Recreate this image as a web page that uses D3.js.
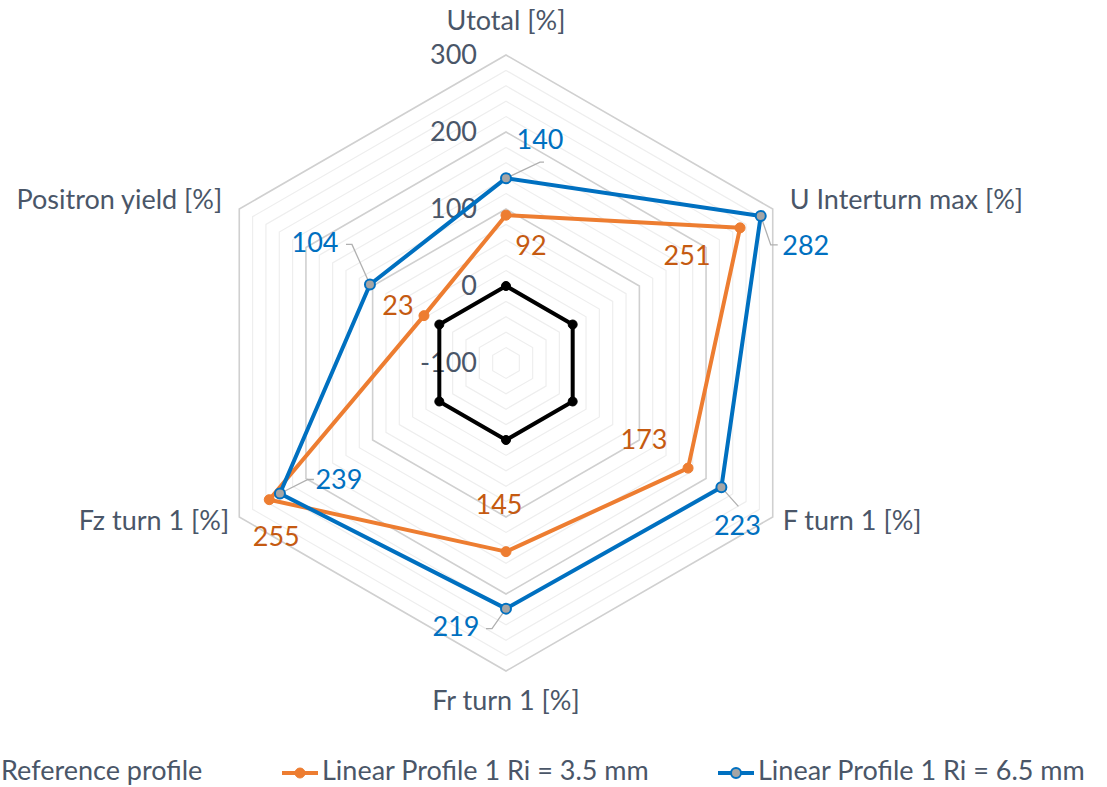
<!DOCTYPE html>
<html>
<head>
<meta charset="utf-8">
<script src="https://cdn.jsdelivr.net/npm/d3@7"></script>
<style>
  body { margin: 0; background: #fff; overflow: hidden; }
  text { font-family: Lato, "Noto Sans", sans-serif; }
</style>
</head>
<body>
<div id="chart"></div>
<script>
// axes of the radar, clockwise from top
var axes = ["Utotal [%]", "U Interturn max [%]", "F turn 1 [%]", "Fr turn 1 [%]", "Fz turn 1 [%]", "Positron yield [%]"];

// series values
var referenceProfile = [0, 0, 0, 0, 0, 0];
var linearRi35 = [92, 251, 173, 145, 255, 23];
var linearRi65 = [140, 282, 223, 219, 239, 104];

var seriesNames = ["Reference profile", "Linear Profile 1 Ri = 3.5 mm", "Linear Profile 1 Ri = 6.5 mm"];

// value axis
var tickValues = [-100, 0, 100, 200, 300];

var width = 1107, height = 787;
var cx = 506, cy = 363;
var textColor = "#4a5668";
var fontSize = 27;

var svg = d3.select("#chart").append("svg")
    .attr("width", width)
    .attr("height", height);

var rscale = d3.scaleLinear().domain([-100, 300]).range([0, 308]);
var angle = function(i) { return i * Math.PI * 2 / axes.length; };

var g = svg.append("g").attr("transform", `translate(${cx},${cy})`);

// grid rings, minor every 20 and major every 100
var ringValues = d3.range(-80, 301, 20);
var ringLine = d3.lineRadial()
    .angle(function(d, i) { return angle(i); })
    .radius(function(d) { return rscale(d); })
    .curve(d3.curveLinearClosed);

g.append("g").attr("class", "grid")
  .selectAll("path")
  .data(ringValues.slice().sort(function(a, b) { return (a % 100 === 0) - (b % 100 === 0); }))
  .join("path")
    .attr("d", function(v) { return ringLine(axes.map(function() { return v; })); })
    .attr("fill", "none")
    .attr("stroke", function(v) { return v % 100 === 0 ? "#d0d0d0" : "#eeeeee"; })
    .attr("stroke-width", function(v) { return v % 100 === 0 ? 1.6 : 1.2; });

// value tick labels
g.append("g").selectAll("text")
  .data(tickValues)
  .join("text")
    .attr("x", -29)
    .attr("y", function(v) { return -rscale(v) + 2; })
    .attr("text-anchor", "end")
    .attr("dominant-baseline", "middle")
    .attr("fill", textColor)
    .attr("font-size", fontSize)
    .text(function(v) { return v; });

// axis category labels
var axisLabelPos = [
  {dx: 0, dy: -32, anchor: "middle"},
  {dx: 17, dy: -7, anchor: "start"},
  {dx: 10, dy: 6, anchor: "start"},
  {dx: 0, dy: 32, anchor: "middle"},
  {dx: -10, dy: 6, anchor: "end"},
  {dx: -17, dy: -7, anchor: "end"}
];
var outerR = rscale(300);
g.append("g").selectAll("text")
  .data(axes)
  .join("text")
    .attr("x", function(d, i) { return outerR * Math.sin(angle(i)) + axisLabelPos[i].dx; })
    .attr("y", function(d, i) { return -outerR * Math.cos(angle(i)) + axisLabelPos[i].dy; })
    .attr("text-anchor", function(d, i) { return axisLabelPos[i].anchor; })
    .attr("dominant-baseline", "middle")
    .attr("fill", textColor)
    .attr("font-size", fontSize)
    .text(function(d) { return d; });

// series
var series = [
  {name: seriesNames[0], values: referenceProfile, stroke: "#000000", fill: "#000000", markerStroke: "#000000", r: 4.5},
  {name: seriesNames[1], values: linearRi35, stroke: "#ed7d31", fill: "#ed7d31", markerStroke: "#ed7d31", r: 5},
  {name: seriesNames[2], values: linearRi65, stroke: "#0070c0", fill: "#a5a5a5", markerStroke: "#0070c0", r: 5}
];

var pt = function(v, i) {
  return [rscale(v) * Math.sin(angle(i)), -rscale(v) * Math.cos(angle(i))];
};

series.forEach(function(s) {
  g.append("path")
    .attr("d", ringLine(s.values))
    .attr("fill", "none")
    .attr("stroke", s.stroke)
    .attr("stroke-width", 4)
    .attr("stroke-linejoin", "round");
});

// leader lines for blue labels (drawn below markers)
var blueLeaders = [
  [[34, -16], [38, -16]],
  [[10, 29], [17, 29]],
  [[17, 19]],
  [[-14, 20], [-20, 20]],
  [[28, -14], [34, -14]],
  [[-18, -40], [-24, -40]]
];
linearRi65.forEach(function(v, i) {
  var p = pt(v, i);
  var pts = [p].concat(blueLeaders[i].map(function(o) { return [p[0] + o[0], p[1] + o[1]]; }));
  g.append("path")
    .attr("d", d3.line()(pts))
    .attr("fill", "none")
    .attr("stroke", "#b0b0b0")
    .attr("stroke-width", 1.3);
});

series.forEach(function(s) {
  g.append("g").selectAll("circle")
    .data(s.values)
    .join("circle")
      .attr("cx", function(v, i) { return pt(v, i)[0]; })
      .attr("cy", function(v, i) { return pt(v, i)[1]; })
      .attr("r", s.r)
      .attr("fill", s.fill)
      .attr("stroke", s.markerStroke)
      .attr("stroke-width", s === series[2] ? 2 : 1);
});

// data labels
var orangeLabelOff = [[25, 33], [-53, 30], [-44, -26], [-7, -44], [7, 39], [-26, -8]];
var blueLabelOff = [[34, -36], [45, 32], [16, 41], [-50, 21], [59, -11], [-55, -39]];

g.append("g").selectAll("text")
  .data(linearRi35)
  .join("text")
    .attr("x", function(v, i) { return pt(v, i)[0] + orangeLabelOff[i][0]; })
    .attr("y", function(v, i) { return pt(v, i)[1] + orangeLabelOff[i][1]; })
    .attr("text-anchor", "middle")
    .attr("dominant-baseline", "middle")
    .attr("fill", "#c55a11")
    .attr("font-size", fontSize)
    .text(function(v) { return v; });

g.append("g").selectAll("text")
  .data(linearRi65)
  .join("text")
    .attr("x", function(v, i) { return pt(v, i)[0] + blueLabelOff[i][0]; })
    .attr("y", function(v, i) { return pt(v, i)[1] + blueLabelOff[i][1]; })
    .attr("text-anchor", "middle")
    .attr("dominant-baseline", "middle")
    .attr("fill", "#0070c0")
    .attr("font-size", fontSize)
    .text(function(v) { return v; });

// legend
var legendX = [-39, 282, 718];
var legend = svg.append("g").attr("transform", "translate(0,773)");
var items = legend.selectAll("g")
  .data(series)
  .join("g")
    .attr("transform", function(d, i) { return `translate(${legendX[i]},0)`; });

items.append("line")
    .attr("x1", 0).attr("x2", 36)
    .attr("stroke", function(d) { return d.stroke; })
    .attr("stroke-width", 4);
items.append("circle")
    .attr("cx", 18)
    .attr("r", function(d) { return d.r; })
    .attr("fill", function(d) { return d.fill; })
    .attr("stroke", function(d) { return d.markerStroke; })
    .attr("stroke-width", function(d, i) { return i === 2 ? 2 : 1; });
items.append("text")
    .attr("x", 40)
    .attr("dominant-baseline", "middle")
    .attr("fill", textColor)
    .attr("font-size", fontSize)
    .text(function(d) { return d.name; });
</script>
</body>
</html>
